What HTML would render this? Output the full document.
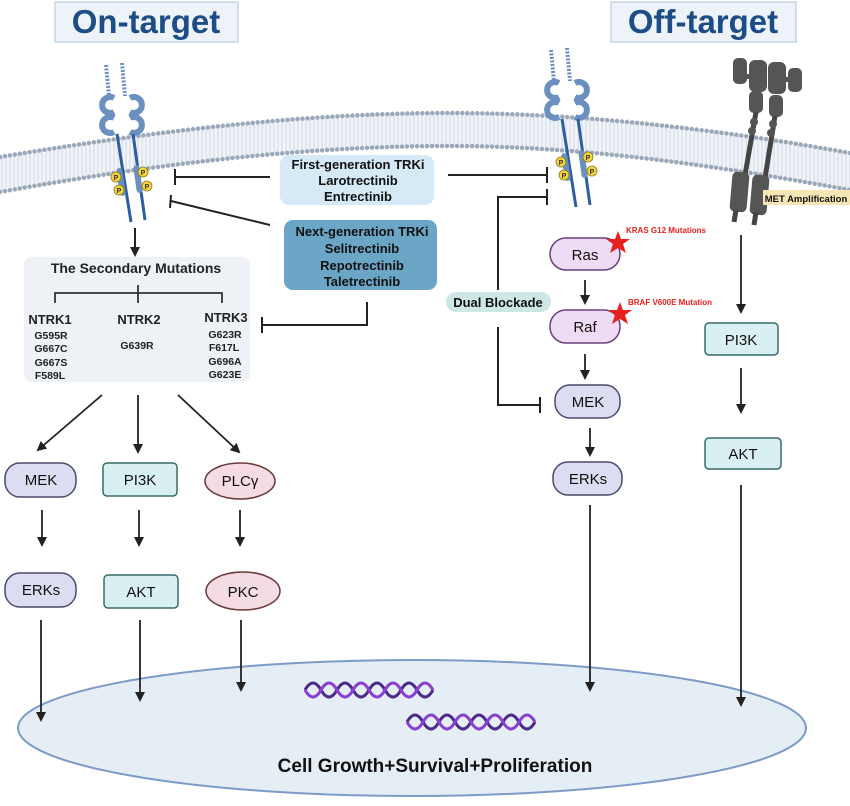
<!DOCTYPE html>
<html><head><meta charset="utf-8"><style>
body{margin:0;background:#fff}
svg text{font-family:"Liberation Sans",Arial,sans-serif}
</style></head><body>
<svg width="850" height="801" viewBox="0 0 850 801" xmlns="http://www.w3.org/2000/svg">
<defs>
<marker id="ah" markerWidth="10" markerHeight="10" refX="8" refY="5" orient="auto" markerUnits="userSpaceOnUse"><path d="M0,0 L10,5 L0,10 Z" fill="#222"/></marker>
<pattern id="lip" width="4" height="10" patternUnits="userSpaceOnUse"><rect width="4" height="10" fill="#f1f4f8"/><line x1="2" y1="0" x2="2" y2="10" stroke="#c9d2de" stroke-width="0.8"/></pattern>
<g id="rec">
 <line x1="106" y1="65" x2="109" y2="96" stroke="#6b8fbf" stroke-width="4" stroke-dasharray="2 1.5"/>
 <line x1="122" y1="63" x2="125" y2="96" stroke="#6b8fbf" stroke-width="4" stroke-dasharray="2 1.5"/>
 <path d="M114,98 A8,8 0 1,0 114,112 M114,118 A8,8 0 1,0 114,132" fill="none" stroke="#6b8fbf" stroke-width="6"/>
 <path d="M130,98 A8,8 0 1,1 130,112 M130,118 A8,8 0 1,1 130,132" fill="none" stroke="#6b8fbf" stroke-width="6"/>
 <line x1="117" y1="134" x2="131" y2="222" stroke="#2d5fa0" stroke-width="3"/>
 <line x1="133" y1="134" x2="145" y2="220" stroke="#2d5fa0" stroke-width="3"/>
 <rect x="118" y="168" width="6" height="28" rx="3" fill="#6b8fbf" transform="rotate(-9 121 182)"/>
 <rect x="135" y="165" width="6" height="28" rx="3" fill="#6b8fbf" transform="rotate(-8 138 179)"/>
 <g fill="#f5d33a" stroke="#8a7a20" stroke-width="0.8"><circle cx="116" cy="177" r="5"/><circle cx="119" cy="190" r="5"/><circle cx="143" cy="172" r="5"/><circle cx="147" cy="186" r="5"/></g>
 <g font-size="7" font-weight="bold" fill="#333" text-anchor="middle"><text x="116" y="180">P</text><text x="119" y="193">P</text><text x="143" y="175">P</text><text x="147" y="189">P</text></g>
</g>
</defs>
<!-- membrane -->
<path d="M0,157 C150,132 300,113 450,113 C600,113 750,135 850,153 L850,190 C750,172 600,146 450,146 C300,146 150,165 0,192 Z" fill="url(#lip)"/>
<path d="M0,157 C150,132 300,113 450,113 C600,113 750,135 850,153" fill="none" stroke="#9aa8ba" stroke-width="4.5" stroke-linecap="round" stroke-dasharray="0 5"/>
<path d="M0,192 C150,165 300,146 450,146 C600,146 750,172 850,190" fill="none" stroke="#9aa8ba" stroke-width="4.5" stroke-linecap="round" stroke-dasharray="0 5"/>

<!-- nucleus -->
<ellipse cx="412" cy="728" rx="394" ry="68" fill="#e6eef5" stroke="#7d9bc8" stroke-width="2"/>
<g stroke-width="3" fill="none">
<path d="M305,690 q8,-14 16,0 t16,0 t16,0 t16,0 t16,0 t16,0 t16,0 t16,0" stroke="#4b2a8a"/>
<path d="M305,690 q8,14 16,0 t16,0 t16,0 t16,0 t16,0 t16,0 t16,0 t16,0" stroke="#8a3fd0"/>
<path d="M407,722 q8,-14 16,0 t16,0 t16,0 t16,0 t16,0 t16,0 t16,0 t16,0" stroke="#4b2a8a"/>
<path d="M407,722 q8,14 16,0 t16,0 t16,0 t16,0 t16,0 t16,0 t16,0 t16,0" stroke="#8a3fd0"/>
</g>
<text x="435" y="772" font-size="19" font-weight="bold" fill="#111" text-anchor="middle">Cell Growth+Survival+Proliferation</text>

<!-- titles -->
<rect x="55" y="2" width="183" height="40" fill="#edf3f9" stroke="#c8d5e6" stroke-width="1.5"/>
<text x="146" y="33" font-size="33" font-weight="bold" fill="#1d4d86" text-anchor="middle">On-target</text>
<rect x="611" y="2" width="185" height="40" fill="#edf3f9" stroke="#c8d5e6" stroke-width="1.5"/>
<text x="703" y="33" font-size="33" font-weight="bold" fill="#1d4d86" text-anchor="middle">Off-target</text>

<use href="#rec"/>
<use href="#rec" transform="translate(445,-15)"/>

<!-- MET -->
<g fill="#555">
<rect x="733" y="58" width="14" height="26" rx="5"/><rect x="749" y="60" width="18" height="32" rx="6"/><rect x="768" y="62" width="18" height="32" rx="6"/><rect x="788" y="68" width="14" height="24" rx="5"/>
<rect x="746" y="74" width="4" height="5"/><rect x="786" y="77" width="4" height="5"/>
<rect x="749" y="91" width="14" height="22" rx="5"/><rect x="769" y="95" width="14" height="22" rx="5"/>
<line x1="756" y1="112" x2="745" y2="175" stroke="#444" stroke-width="5"/><line x1="775" y1="116" x2="765" y2="178" stroke="#444" stroke-width="5"/>
<circle cx="754" cy="122" r="4"/><circle cx="752" cy="131" r="4"/><circle cx="773" cy="124" r="4"/><circle cx="771" cy="133" r="4"/>
<rect x="731" y="172" width="17" height="40" rx="5" transform="rotate(5 740 192)"/><rect x="751" y="175" width="17" height="40" rx="5" transform="rotate(5 760 195)"/>
<line x1="736" y1="210" x2="734" y2="222" stroke="#444" stroke-width="5"/><line x1="756" y1="212" x2="754" y2="225" stroke="#444" stroke-width="5"/>
</g>
<rect x="763" y="190" width="87" height="15" fill="#f6e6b4"/>
<text x="806" y="202" font-size="9.5" font-weight="bold" fill="#111" text-anchor="middle">MET Amplification</text>

<!-- drug boxes -->
<rect x="280" y="155" width="154" height="50" rx="9" fill="#d6e9f6"/>
<g font-size="13" font-weight="bold" fill="#111" text-anchor="middle"><text x="358" y="169">First-generation TRKi</text><text x="358" y="185">Larotrectinib</text><text x="358" y="201">Entrectinib</text></g>
<rect x="284" y="220" width="153" height="70" rx="9" fill="#6ba6c6"/>
<g font-size="13" font-weight="bold" fill="#111" text-anchor="middle"><text x="362" y="236">Next-generation TRKi</text><text x="362" y="253">Selitrectinib</text><text x="362" y="270">Repotrectinib</text><text x="362" y="286">Taletrectinib</text></g>

<g stroke="#222" stroke-width="2" fill="none">
<line x1="270" y1="177" x2="175" y2="177"/><line x1="175" y1="169" x2="175" y2="185"/>
<line x1="270" y1="225" x2="171" y2="201"/><line x1="171" y1="195" x2="170" y2="208"/>
<polyline points="367,302 367,325 262,325"/><line x1="262" y1="317" x2="262" y2="333"/>
<line x1="448" y1="175" x2="547" y2="175"/><line x1="547" y1="167" x2="547" y2="183"/>
<polyline points="498,290 498,197 547,197"/><line x1="547" y1="189" x2="547" y2="205"/>
<polyline points="498,327 498,405 540,405"/><line x1="540" y1="397" x2="540" y2="413"/>
</g>
<rect x="446" y="292" width="105" height="20" rx="10" fill="#cde8e4"/>
<text x="498" y="307" font-size="13" font-weight="bold" fill="#111" text-anchor="middle">Dual Blockade</text>

<!-- secondary mutations -->
<line x1="135" y1="228" x2="135" y2="255" stroke="#222" stroke-width="2" marker-end="url(#ah)"/>
<rect x="24" y="257" width="226" height="125" rx="8" fill="#eef2f6"/>
<text x="136" y="273" font-size="14" font-weight="bold" fill="#222" text-anchor="middle">The Secondary Mutations</text>
<g stroke="#333" stroke-width="1.8" fill="none"><polyline points="55,303 55,293 222,293 222,303"/><line x1="138" y1="285" x2="138" y2="303"/></g>
<g font-weight="bold" fill="#222" text-anchor="middle">
<text x="50" y="324" font-size="13">NTRK1</text><text x="139" y="324" font-size="13">NTRK2</text><text x="226" y="322" font-size="13">NTRK3</text>
<g font-size="10.5"><text x="51" y="339">G595R</text><text x="51" y="352">G667C</text><text x="51" y="366">G667S</text><text x="50" y="379">F589L</text>
<text x="137" y="349">G639R</text>
<text x="225" y="338">G623R</text><text x="224" y="351">F617L</text><text x="225" y="365">G696A</text><text x="225" y="378">G623E</text></g>
</g>

<!-- pathways -->
<g stroke="#222" stroke-width="1.8" marker-end="url(#ah)">
<line x1="102" y1="395" x2="38" y2="450"/><line x1="138" y1="395" x2="138" y2="452"/><line x1="178" y1="395" x2="239" y2="452"/>
<line x1="42" y1="510" x2="42" y2="545"/><line x1="139" y1="510" x2="139" y2="545"/><line x1="240" y1="510" x2="240" y2="545"/>
<line x1="41" y1="620" x2="41" y2="720"/><line x1="140" y1="620" x2="140" y2="700"/><line x1="241" y1="620" x2="241" y2="690"/>
<line x1="590" y1="505" x2="590" y2="690"/><line x1="741" y1="485" x2="741" y2="705"/>
<line x1="585" y1="280" x2="585" y2="303"/><line x1="585" y1="354" x2="585" y2="378"/><line x1="590" y1="428" x2="590" y2="455"/>
<line x1="741" y1="235" x2="741" y2="312"/><line x1="741" y1="368" x2="741" y2="412"/>
</g>

<g font-size="15" fill="#111" text-anchor="middle">
<rect x="5" y="463" width="71" height="34" rx="15" fill="#dcdcf2" stroke="#4a4a6a" stroke-width="1.5"/><text x="41" y="485">MEK</text>
<rect x="103" y="463" width="74" height="33" rx="4" fill="#d9f0f3" stroke="#3a6b6b" stroke-width="1.5"/><text x="140" y="485">PI3K</text>
<ellipse cx="240" cy="481" rx="35" ry="18" fill="#f5dbe3" stroke="#6b3a3a" stroke-width="1.5"/><text x="240" y="486">PLCγ</text>
<rect x="5" y="573" width="71" height="34" rx="15" fill="#dcdcf2" stroke="#4a4a6a" stroke-width="1.5"/><text x="41" y="595">ERKs</text>
<rect x="104" y="575" width="74" height="33" rx="4" fill="#d9f0f3" stroke="#3a6b6b" stroke-width="1.5"/><text x="141" y="597">AKT</text>
<ellipse cx="243" cy="591" rx="37" ry="19" fill="#f5dbe3" stroke="#6b3a3a" stroke-width="1.5"/><text x="243" y="597">PKC</text>

<rect x="550" y="238" width="70" height="32" rx="16" fill="#eddcf3" stroke="#6b3f7e" stroke-width="1.5"/><text x="585" y="260">Ras</text>
<rect x="550" y="310" width="70" height="33" rx="16" fill="#eddcf3" stroke="#6b3f7e" stroke-width="1.5"/><text x="585" y="332">Raf</text>
<rect x="555" y="385" width="65" height="33" rx="15" fill="#dcdcf2" stroke="#4a4a6a" stroke-width="1.5"/><text x="588" y="407">MEK</text>
<rect x="553" y="462" width="69" height="33" rx="15" fill="#dcdcf2" stroke="#4a4a6a" stroke-width="1.5"/><text x="588" y="484">ERKs</text>
<rect x="705" y="323" width="73" height="32" rx="4" fill="#d9f0f3" stroke="#3a6b6b" stroke-width="1.5"/><text x="741" y="345">PI3K</text>
<rect x="705" y="438" width="76" height="31" rx="4" fill="#d9f0f3" stroke="#3a6b6b" stroke-width="1.5"/><text x="743" y="459">AKT</text>
</g>
<g fill="#e8201e">
<polygon points="618,231 621,239 630,239 623,244 626,253 618,248 610,253 613,244 606,239 615,239"/>
<polygon points="620,302 623,310 632,310 625,315 628,324 620,319 612,324 615,315 608,310 617,310"/>
</g>
<text x="626" y="233" font-size="8" font-weight="bold" fill="#e8201e">KRAS G12 Mutations</text>
<text x="628" y="305" font-size="8" font-weight="bold" fill="#e8201e">BRAF V600E Mutation</text>
</svg>
</body></html>
